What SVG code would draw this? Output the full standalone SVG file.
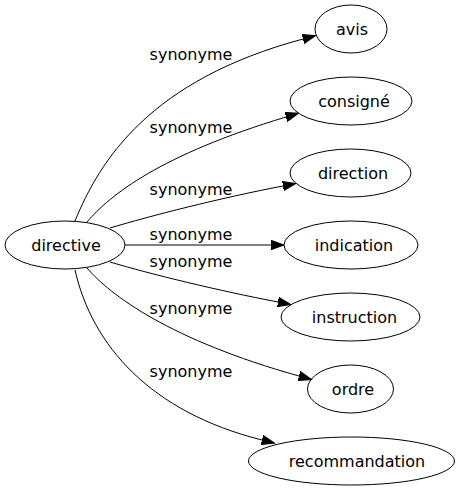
<svg xmlns="http://www.w3.org/2000/svg" width="457" height="491" viewBox="0 0 457 491">
<style>
.node ellipse{fill:none;stroke:#000;stroke-width:1}
.node text,.lbl{font-family:"DejaVu Sans",sans-serif;font-size:16px;fill:#000}
.node text{text-anchor:middle}
.lbl{text-anchor:middle}
.edge{fill:none;stroke:#000;stroke-width:1;marker-end:url(#arr)}
</style>
<defs>
<marker id="arr" markerUnits="userSpaceOnUse" markerWidth="14" markerHeight="10" refX="0" refY="5" orient="auto">
<path d="M0,0.3 L13,5 L0,9.7 Z" fill="#000" stroke="#000" stroke-width="1"/>
</marker>
</defs>
<rect width="457" height="491" fill="#fff"/>
<g id="connectors">
<path class="edge" d="M75,221 C100,160 150,80 303,39"/>
<path class="edge" d="M87,222 C110,195 160,155 286,117"/>
<path class="edge" d="M110,228 C150,216 220,198 283,186"/>
<path class="edge" d="M125,245 L271,245"/>
<path class="edge" d="M110,262 C150,274 220,291 278,302"/>
<path class="edge" d="M87,268 C110,295 170,340 299,376"/>
<path class="edge" d="M75,270 C92,345 150,412 262,440"/>
<text class="lbl" x="191" y="60">synonyme</text>
<text class="lbl" x="191" y="133">synonyme</text>
<text class="lbl" x="191" y="195">synonyme</text>
<text class="lbl" x="191" y="240">synonyme</text>
<text class="lbl" x="191" y="267">synonyme</text>
<text class="lbl" x="191" y="314">synonyme</text>
<text class="lbl" x="191" y="377">synonyme</text>
</g>
<g id="directive" class="node"><ellipse cx="65" cy="245" rx="60" ry="24"/><text x="66" y="250.5">directive</text></g>
<g id="avis" class="node"><ellipse cx="351" cy="29" rx="36" ry="24"/><text x="352" y="34.5">avis</text></g>
<g id="consigne" class="node"><ellipse cx="351" cy="101" rx="61" ry="24"/><text x="354" y="106.5">consigné</text></g>
<g id="direction" class="node"><ellipse cx="350.5" cy="173" rx="60.5" ry="24"/><text x="353" y="178.5">direction</text></g>
<g id="indication" class="node"><ellipse cx="351" cy="245" rx="67" ry="24"/><text x="354" y="250.5">indication</text></g>
<g id="instruction" class="node"><ellipse cx="350.5" cy="317" rx="69.5" ry="24"/><text x="354.5" y="322.5">instruction</text></g>
<g id="ordre" class="node"><ellipse cx="350.5" cy="389" rx="43" ry="24"/><text x="353" y="394.5">ordre</text></g>
<g id="recommandation" class="node"><ellipse cx="351.5" cy="461" rx="103" ry="24"/><text x="357" y="466.5">recommandation</text></g>
</svg>
